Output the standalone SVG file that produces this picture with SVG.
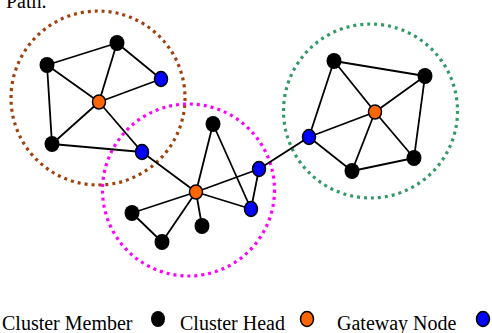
<svg xmlns="http://www.w3.org/2000/svg" width="492" height="333" viewBox="0 0 492 333">
<style>
text{font-family:"Liberation Serif","Times New Roman",serif;font-size:20px;fill:#000}
.ring{fill:none;stroke-width:3.2;stroke-dasharray:3 4}
.e line{stroke:#000;stroke-width:1.8}
.m{fill:#000}
.h{fill:#FF6600;stroke:#000;stroke-width:1.5}
.g{fill:#0000FF;stroke:#000;stroke-width:1.5}
</style>
<rect width="492" height="333" fill="#fff"/>
<text x="6" y="8">Path.</text>
<g id="clusters">
<circle id="cluster1" class="ring" cx="98" cy="98" r="87" stroke="#A0410D"/>
<circle id="cluster2" class="ring" cx="188.5" cy="190" r="86" stroke="#FF00FF"/>
<circle id="cluster3" class="ring" cx="370.5" cy="111" r="87" stroke="#339966"/>
</g>
<g id="connectors" class="e">
<line x1="47" y1="65" x2="117" y2="43"/>
<line x1="117" y1="43" x2="161" y2="79"/>
<line x1="117" y1="43" x2="99" y2="102"/>
<line x1="47" y1="65" x2="99" y2="102"/>
<line x1="47" y1="65" x2="52" y2="144"/>
<line x1="161" y1="79" x2="99" y2="102"/>
<line x1="99" y1="102" x2="52" y2="144"/>
<line x1="99" y1="102" x2="142" y2="152"/>
<line x1="52" y1="144" x2="142" y2="152"/>
<line x1="142" y1="152" x2="196" y2="192"/>
<line x1="196" y1="192" x2="213" y2="124"/>
<line x1="213" y1="124" x2="251" y2="209"/>
<line x1="196" y1="192" x2="259" y2="169"/>
<line x1="196" y1="192" x2="251" y2="209"/>
<line x1="259" y1="169" x2="251" y2="209"/>
<line x1="196" y1="192" x2="132" y2="213"/>
<line x1="132" y1="213" x2="162" y2="242"/>
<line x1="196" y1="192" x2="162" y2="242"/>
<line x1="196" y1="192" x2="202" y2="226"/>
<line x1="259" y1="169" x2="309" y2="137"/>
<line x1="334" y1="61" x2="425" y2="76"/>
<line x1="334" y1="61" x2="309" y2="137"/>
<line x1="334" y1="61" x2="375" y2="112"/>
<line x1="425" y1="76" x2="375" y2="112"/>
<line x1="425" y1="76" x2="414" y2="158"/>
<line x1="375" y1="112" x2="309" y2="137"/>
<line x1="375" y1="112" x2="352" y2="171"/>
<line x1="375" y1="112" x2="414" y2="158"/>
<line x1="309" y1="137" x2="352" y2="171"/>
<line x1="352" y1="171" x2="414" y2="158"/>
</g>
<g id="n1"><ellipse class="m" cx="117" cy="43" rx="7.5" ry="8"/></g>
<g id="n2"><ellipse class="m" cx="47" cy="65" rx="7.5" ry="8"/></g>
<g id="n3"><ellipse class="g" cx="161" cy="79" rx="6.5" ry="7.5"/></g>
<g id="n4"><ellipse class="h" cx="99" cy="102" rx="6.5" ry="7"/></g>
<g id="n5"><ellipse class="m" cx="52" cy="144" rx="7.5" ry="8"/></g>
<g id="n6"><ellipse class="g" cx="142" cy="152" rx="6.5" ry="7.5"/></g>
<g id="n7"><ellipse class="h" cx="196" cy="192" rx="6.5" ry="7"/></g>
<g id="n8"><ellipse class="m" cx="213" cy="124" rx="7.5" ry="8"/></g>
<g id="n9"><ellipse class="g" cx="259" cy="169" rx="6.5" ry="7.5"/></g>
<g id="n10"><ellipse class="g" cx="251" cy="209" rx="6.5" ry="7.5"/></g>
<g id="n11"><ellipse class="m" cx="132" cy="213" rx="7.5" ry="8"/></g>
<g id="n12"><ellipse class="m" cx="162" cy="242" rx="7.5" ry="8"/></g>
<g id="n13"><ellipse class="m" cx="202" cy="226" rx="7.5" ry="8"/></g>
<g id="n14"><ellipse class="m" cx="334" cy="61" rx="7.5" ry="8"/></g>
<g id="n15"><ellipse class="m" cx="425" cy="76" rx="7.5" ry="8"/></g>
<g id="n16"><ellipse class="h" cx="375" cy="112" rx="6.5" ry="7"/></g>
<g id="n17"><ellipse class="g" cx="309" cy="137" rx="6.5" ry="7.5"/></g>
<g id="n18"><ellipse class="m" cx="352" cy="171" rx="7.5" ry="8"/></g>
<g id="n19"><ellipse class="m" cx="414" cy="158" rx="7.5" ry="8"/></g>
<g id="legend">
<text x="2" y="330">Cluster Member</text>
<ellipse class="m" cx="158" cy="319" rx="7" ry="8"/>
<text x="180" y="330">Cluster Head</text>
<ellipse class="h" cx="307" cy="319" rx="6.5" ry="7.5"/>
<text x="337" y="330">Gateway Node</text>
<ellipse class="g" cx="483" cy="319" rx="6.5" ry="7.5"/>
</g>
</svg>
